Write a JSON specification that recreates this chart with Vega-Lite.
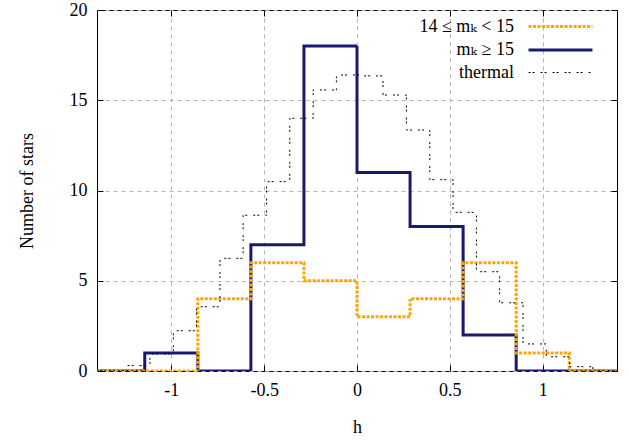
{
  "$schema": "https://vega.github.io/schema/vega-lite/v6.json",
  "width": 520,
  "height": 361,
  "autosize": {"type": "none"},
  "padding": {"left": 97, "top": 10, "right": 12, "bottom": 71},
  "background": "white",
  "config": {
    "view": {"stroke": "black", "strokeWidth": 1},
    "font": "Liberation Serif, Times New Roman, DejaVu Serif, serif",
    "axis": {
      "labelFont": "Liberation Serif, Times New Roman, DejaVu Serif, serif",
      "labelFontSize": 18,
      "labelColor": "black",
      "titleFont": "Liberation Serif, Times New Roman, DejaVu Serif, serif",
      "titleFontSize": 18,
      "titleFontWeight": "normal",
      "titleColor": "black",
      "tickColor": "black",
      "tickSize": -6,
      "tickWidth": 1,
      "domain": false,
      "gridColor": "#b4b4b4",
      "gridDash": [4, 4],
      "gridWidth": 1,
      "labelPadding": 16
    },
    "legend": {
      "orient": "none",
      "legendX": 453,
      "legendY": 6,
      "symbolType": "M-3.55,0H3.55",
      "symbolSize": 324,
      "labelAlign": "right",
      "labelOffset": -57,
      "labelFont": "Liberation Serif, Times New Roman, DejaVu Serif, serif",
      "labelFontSize": 18,
      "labelColor": "black",
      "rowPadding": 3.5,
      "labelLimit": 300
    }
  },
  "data": {
    "values": [
      {"series": "mₖ ≥ 15", "h": -1.4, "n": 0},
      {"series": "mₖ ≥ 15", "h": -1.142857, "n": 1},
      {"series": "mₖ ≥ 15", "h": -0.857143, "n": 0},
      {"series": "mₖ ≥ 15", "h": -0.571429, "n": 7},
      {"series": "mₖ ≥ 15", "h": -0.285714, "n": 18},
      {"series": "mₖ ≥ 15", "h": 0, "n": 11},
      {"series": "mₖ ≥ 15", "h": 0.285714, "n": 8},
      {"series": "mₖ ≥ 15", "h": 0.571429, "n": 2},
      {"series": "mₖ ≥ 15", "h": 0.857143, "n": 0},
      {"series": "mₖ ≥ 15", "h": 1.4, "n": 0},
      {"series": "14 ≤ mₖ < 15", "h": -1.4, "n": 0},
      {"series": "14 ≤ mₖ < 15", "h": -0.857143, "n": 4},
      {"series": "14 ≤ mₖ < 15", "h": -0.571429, "n": 6},
      {"series": "14 ≤ mₖ < 15", "h": -0.285714, "n": 5},
      {"series": "14 ≤ mₖ < 15", "h": 0, "n": 3},
      {"series": "14 ≤ mₖ < 15", "h": 0.285714, "n": 4},
      {"series": "14 ≤ mₖ < 15", "h": 0.571429, "n": 6},
      {"series": "14 ≤ mₖ < 15", "h": 0.857143, "n": 1},
      {"series": "14 ≤ mₖ < 15", "h": 1.142857, "n": 0},
      {"series": "14 ≤ mₖ < 15", "h": 1.4, "n": 0},
      {"series": "thermal", "h": -1.4, "n": 0},
      {"series": "thermal", "h": -1.24, "n": 0.3},
      {"series": "thermal", "h": -1.115, "n": 0.95},
      {"series": "thermal", "h": -0.989, "n": 2.23},
      {"series": "thermal", "h": -0.864, "n": 3.56},
      {"series": "thermal", "h": -0.738, "n": 6.24},
      {"series": "thermal", "h": -0.613, "n": 8.63},
      {"series": "thermal", "h": -0.487, "n": 10.49},
      {"series": "thermal", "h": -0.362, "n": 14.0},
      {"series": "thermal", "h": -0.236, "n": 15.57},
      {"series": "thermal", "h": -0.111, "n": 16.4},
      {"series": "thermal", "h": 0.015, "n": 16.35},
      {"series": "thermal", "h": 0.14, "n": 15.29},
      {"series": "thermal", "h": 0.266, "n": 13.35},
      {"series": "thermal", "h": 0.392, "n": 10.6},
      {"series": "thermal", "h": 0.517, "n": 8.79},
      {"series": "thermal", "h": 0.643, "n": 5.5},
      {"series": "thermal", "h": 0.768, "n": 3.78},
      {"series": "thermal", "h": 0.894, "n": 1.5},
      {"series": "thermal", "h": 1.019, "n": 0.79},
      {"series": "thermal", "h": 1.145, "n": 0.24},
      {"series": "thermal", "h": 1.27, "n": 0},
      {"series": "thermal", "h": 1.4, "n": 0}
    ]
  },
  "layer": [
    {
      "mark": {"type": "line", "interpolate": "step-after", "clip": true, "strokeCap": "butt"},
      "encoding": {
        "x": {
          "field": "h", "type": "quantitative",
          "scale": {"domain": [-1.4, 1.4], "nice": false, "zero": false},
          "axis": {"title": "h", "values": [-1, -0.5, 0, 0.5, 1], "labelExpr": "datum.value + ''", "titlePadding": 19, "grid": true}
        },
        "y": {
          "field": "n", "type": "quantitative",
          "scale": {"domain": [0, 20], "nice": false},
          "axis": {"title": "Number of stars", "values": [0, 5, 10, 15, 20], "titlePadding": 33, "grid": true}
        },
        "color": {
          "field": "series", "type": "nominal",
          "scale": {"domain": ["14 ≤ mₖ < 15", "mₖ ≥ 15", "thermal"], "range": ["#ffa500", "#191970", "#000000"]},
          "legend": {"title": null}
        },
        "strokeDash": {
          "field": "series", "type": "nominal",
          "scale": {"domain": ["14 ≤ mₖ < 15", "mₖ ≥ 15", "thermal"], "range": [[3, 1.5], [1, 0], [2, 2, 2, 6]]},
          "legend": {"title": null}
        },
        "strokeWidth": {
          "field": "series", "type": "nominal",
          "scale": {"type": "ordinal", "domain": ["14 ≤ mₖ < 15", "mₖ ≥ 15", "thermal"], "range": [3, 3, 1]},
          "legend": {"title": null}
        }
      }
    },
    {
      "mark": {"type": "point", "opacity": 0},
      "encoding": {
        "x": {"field": "h", "type": "quantitative", "axis": {"orient": "top", "title": null, "labels": false, "grid": false, "values": [-1, -0.5, 0, 0.5, 1]}},
        "y": {"field": "n", "type": "quantitative", "axis": {"orient": "right", "title": null, "labels": false, "grid": false, "values": [0, 5, 10, 15, 20]}}
      }
    }
  ],
  "resolve": {"axis": {"x": "independent", "y": "independent"}}
}
